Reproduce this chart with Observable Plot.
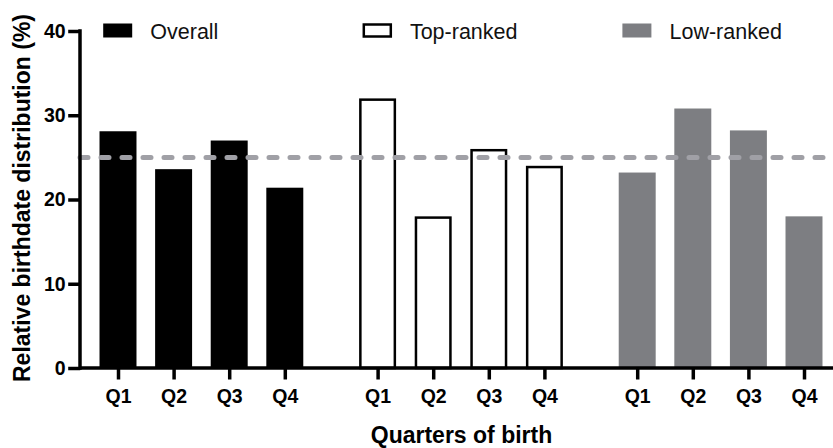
<!DOCTYPE html>
<html>
<head>
<meta charset="utf-8">
<script src="https://cdn.jsdelivr.net/npm/d3@7"></script>
<script src="https://cdn.jsdelivr.net/npm/@observablehq/plot@0.6"></script>
<style>
  html, body { margin: 0; padding: 0; background: #fff; }
  #chart { width: 833px; height: 448px; }
</style>
</head>
<body>
<div id="chart"></div>
<script>
// ---- data ----
const groups = ["Overall", "Top-ranked", "Low-ranked"];
const quarters = ["Q1", "Q2", "Q3", "Q4"];
const overallValues = [28.1, 23.6, 27.0, 21.4];
const topRankedValues = [32.0, 18.0, 26.0, 24.0];
const lowRankedValues = [23.2, 30.8, 28.2, 18.0];
const yTicks = [0, 10, 20, 30, 40];
const referenceValue = 25;
const yTitle = "Relative birthdate distribution (%)";
const xTitle = "Quarters of birth";

// ---- tables built from the data ----
const seriesValues = [overallValues, topRankedValues, lowRankedValues];
const rows = groups.flatMap((g, i) =>
  quarters.map((q, j) => ({group: g, quarter: q, value: seriesValues[i][j]}))
);
const legendRows = groups.map((g) => ({group: g}));

// ---- styles ----
const look = {
  "Overall": {fill: "#000000", stroke: "#000000", sw: 0},
  "Top-ranked": {fill: "#ffffff", stroke: "#000000", sw: 2.5},
  "Low-ranked": {fill: "#7d7e82", stroke: "#7d7e82", sw: 0}
};
const swatch = {draw(ctx) { ctx.rect(-13.5, -6, 27, 12); }};
const W = 833, H = 448, ML = 80, MT = 31, MB = 80;

const marks = [];
for (const g of groups) {
  marks.push(Plot.barY(rows.filter((d) => d.group === g), {
    fx: "group", x: "quarter", y: "value",
    fill: look[g].fill,
    stroke: look[g].sw ? look[g].stroke : "none",
    strokeWidth: look[g].sw,
    inset: look[g].sw ? 1.25 : 0,
    insetBottom: 0
  }));
  marks.push(Plot.dot(legendRows.filter((d) => d.group === g), {
    fx: "group", x: null, y: null, frameAnchor: "top-left",
    dx: 27, dy: -1, symbol: swatch,
    fill: look[g].fill, stroke: look[g].stroke,
    strokeWidth: look[g].sw ? 2.5 : 2
  }));
}
marks.push(
  Plot.text(legendRows, {
    fx: "group", x: null, y: null, text: "group",
    frameAnchor: "top-left", textAnchor: "start", lineAnchor: "middle",
    dx: 59.6, dy: 0.5, fontSize: 21.5, fill: "#111"
  }),
  Plot.axisY({
    ticks: yTicks, tickSize: 12, tickPadding: 3, dx: -10,
    strokeWidth: 3.5, fontSize: 19.5, fontWeight: "bold", label: null
  }),
  Plot.axisX({
    tickSize: 11.5, tickPadding: 9.5, strokeWidth: 3.5,
    fontSize: 19.5, fontWeight: "bold", label: null
  }),
  Plot.text([{group: groups[1], label: xTitle}], {
    fx: "group", x: null, y: null, text: "label",
    frameAnchor: "bottom", lineAnchor: "bottom", dy: 74,
    fontSize: 23, fontWeight: "bold"
  }),
  Plot.text([yTitle], {
    facet: "super", text: (d) => d,
    frameAnchor: "left", rotate: -90, lineAnchor: "bottom", textAnchor: "middle",
    dx: -61, dy: -2, fontSize: 23, fontWeight: "bold"
  })
);

const chart = Plot.plot({
  width: W,
  height: H,
  marginLeft: ML,
  marginRight: 0,
  marginTop: MT,
  marginBottom: MB,
  style: {fontFamily: "'Liberation Sans', Arial, sans-serif", color: "#000", background: "#fff", overflow: "visible"},
  fx: {domain: groups, range: [90.2, 831.8], paddingInner: 0.1433, paddingOuter: 0, round: false, axis: null, label: null},
  x: {domain: quarters, paddingInner: 0.335, paddingOuter: 0.1675, round: false, label: null},
  y: {domain: [0, 40], label: null},
  marks
});

// continuous lines across all facets, positioned with the chart's own y scale
const ys = chart.scale("y");
const svg = d3.select(chart.tagName.toLowerCase() === "svg" ? chart : chart.querySelector("svg"));
svg.append("line")
  .attr("x1", ML).attr("x2", W)
  .attr("y1", ys.apply(referenceValue)).attr("y2", ys.apply(referenceValue))
  .attr("stroke", "#a0a0a6").attr("stroke-width", 5)
  .attr("stroke-dasharray", "8,13").attr("stroke-linecap", "round");
svg.append("line")
  .attr("x1", ML).attr("x2", W)
  .attr("y1", ys.apply(0)).attr("y2", ys.apply(0))
  .attr("stroke", "#000").attr("stroke-width", 3.5);
svg.append("line")
  .attr("x1", ML).attr("x2", ML)
  .attr("y1", ys.apply(40)).attr("y2", ys.apply(0))
  .attr("stroke", "#000").attr("stroke-width", 3.5)
  .attr("stroke-linecap", "square");

document.getElementById("chart").appendChild(chart);
</script>
</body>
</html>
